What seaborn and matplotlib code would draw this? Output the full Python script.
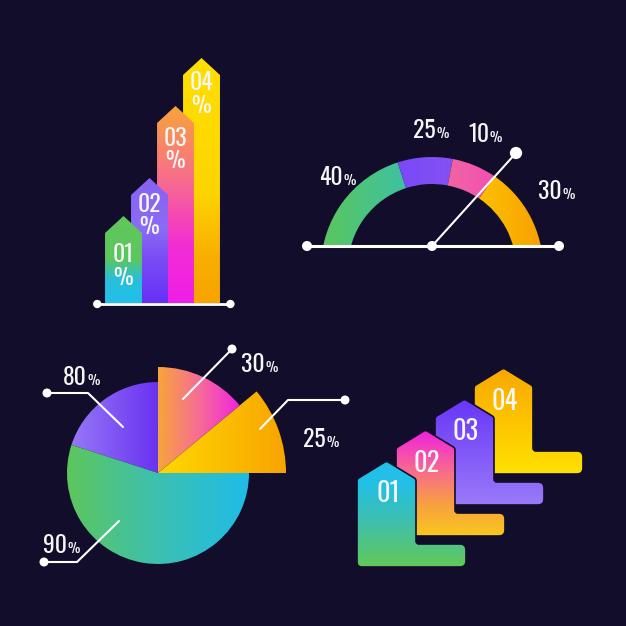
import numpy as np
import matplotlib
matplotlib.use("Agg")
import matplotlib.pyplot as plt
import seaborn as sns
from matplotlib import font_manager
from matplotlib.colors import LinearSegmentedColormap
from matplotlib.patches import PathPatch, Polygon, Wedge
from matplotlib.path import Path

BG = "#110d2b"
FG = "#f6f6f6"
SIZE = 626

# top left: arrow columns
bar_labels = ["01", "02", "03", "04"]
bar_heights = [70, 108, 180, 228]

# top right: half gauge
gauge_labels = ["40", "25", "10", "30"]
gauge_share = [40, 16, 13, 31]  # share of the half circle as drawn

# bottom left: pie with uneven radii (counter-clockwise from 12 o'clock)
pie_labels = ["80", "90", "25", "30"]
pie_share = [20, 55, 11, 14]
pie_radius = [91, 91, 128, 106]

# bottom right: steps
step_labels = ["01", "02", "03", "04"]

BAR_STOPS = [
    [(0, "#22bfe9"), (0.27, "#27c0dc"), (0.5, "#5cc660"), (1, "#60c85a")],
    [(0, "#6630f4"), (0.35, "#7a4cf6"), (0.6, "#8b6cf6"), (1, "#8762f2")],
    [(0, "#ef1ee8"), (0.3, "#f22ed2"), (0.62, "#f86c8e"), (1, "#f8a43a")],
    [(0, "#f7a300"), (0.2, "#f9b000"), (0.45, "#fed400"), (1, "#ffe000")],
]
GAUGE_STOPS = [
    [(0, "#5cc65c"), (1, "#34c0b6")],
    [(0, "#7a48f8"), (1, "#8452f2")],
    [(0, "#f06c9c"), (1, "#f250b2")],
    [(0, "#ffd800"), (1, "#f8a000")],
]
PIE_STOPS = [
    [(0, "#9678f8"), (1, "#6a32f0")],
    [(0, "#5ec65c"), (0.5, "#3cc0b0"), (1, "#20bce8")],
    [(0, "#ffd800"), (1, "#f8a400")],
    [(0, "#f7a53a"), (0.5, "#f76c96"), (1, "#f024e2")],
]
STEP_STOPS = [
    [(0, "#62c857"), (0.45, "#3cc0b0"), (0.8, "#22bfe8"), (1, "#22bfe8")],
    [(0, "#f8c81c"), (0.3, "#f8a040"), (0.62, "#f86a90"), (1, "#f020e0")],
    [(0, "#9a7af8"), (1, "#6836f8")],
    [(0, "#ffe100"), (0.5, "#fcc400"), (1, "#f8a600")],
]


def pick_font():
    # the original uses a tall condensed face; take the narrowest one available
    fl = font_manager.fontManager.ttflist
    names = {f.name for f in fl}
    for n in ["Oswald", "Liberation Sans Narrow", "Roboto Condensed", "Open Sans Condensed",
              "Noto Sans Condensed", "DejaVu Sans Condensed"]:
        if n in names:
            return n, "normal"
    for f in fl:
        if str(f.stretch) in ("condensed", "semi-condensed", "extra-condensed") and str(f.weight) in ("400", "normal", "regular"):
            return f.name, str(f.stretch)
    return "DejaVu Sans", "normal"


def panel(fig, x0, y0, x1, y1, xlim, ylim):
    # axes placed on a pixel box of the 626x626 canvas
    ax = fig.add_axes([x0 / SIZE, 1 - y1 / SIZE, (x1 - x0) / SIZE, (y1 - y0) / SIZE])
    ax.set_xlim(*xlim)
    ax.set_ylim(*ylim)
    ax.set_axis_off()
    return ax


def grad_fill(ax, patch, stops, extent, vertical=True, z=2, edge="none"):
    patch.set_facecolor("none")
    patch.set_edgecolor(edge)
    patch.set_linewidth(1.2)
    patch.set_zorder(z + 0.1)
    ax.add_patch(patch)
    g = np.linspace(0, 1, 256)
    arr = g[:, None] if vertical else g[None, :]
    cmap = LinearSegmentedColormap.from_list("g", stops)
    im = ax.imshow(arr, cmap=cmap, extent=extent, origin="lower", aspect="auto",
                   zorder=z, interpolation="bilinear")
    im.set_clip_path(patch)


def rounded_path(pts, radii):
    pts = np.asarray(pts, float)
    n = len(pts)
    verts, codes = [], []
    for k in range(n):
        p, a, b = pts[k], pts[k - 1], pts[(k + 1) % n]
        da = (a - p) / np.linalg.norm(a - p)
        db = (b - p) / np.linalg.norm(b - p)
        verts.append(p + da * radii[k])
        codes.append(Path.MOVETO if k == 0 else Path.LINETO)
        verts += [p, p + db * radii[k]]
        codes += [Path.CURVE3, Path.CURVE3]
    verts.append(verts[0])
    codes.append(Path.CLOSEPOLY)
    return Path(verts, codes)


def pct_label(ax, x, y, num, big=17, small=10):
    ax.text(x, y, num, ha="right", va="baseline", fontsize=big, color=FG)
    ax.text(x + 0.5, y, "%", ha="left", va="baseline", fontsize=small, color=FG)


def dots(ax, xs, ys, s, z=20):
    sns.scatterplot(x=xs, y=ys, s=s, color="white", edgecolor="none", legend=False, ax=ax, zorder=z)


sns.set_theme(style="dark", rc={"axes.facecolor": BG, "figure.facecolor": BG})
font_name, font_stretch = pick_font()
plt.rcParams["font.family"] = [font_name, "DejaVu Sans"]
plt.rcParams["font.stretch"] = font_stretch

fig = plt.figure(figsize=(SIZE / 100, SIZE / 100), dpi=100)

# ---- arrow columns ----
ax = panel(fig, 80, 40, 250, 320, (-1.673, 4.865), (-17, 263))
bw, tip = 1.42, 17
num_drop = [22, 9, 15, 8]
for i, h in enumerate(bar_heights):
    poly = Polygon([(i - bw / 2, 0), (i + bw / 2, 0), (i + bw / 2, h), (i, h + tip), (i - bw / 2, h)])
    grad_fill(ax, poly, BAR_STOPS[i], (i - bw / 2, i + bw / 2, 0, h + tip), z=10 - i)
    ax.text(i, h - num_drop[i], bar_labels[i], ha="center", va="center", fontsize=17, color=FG, zorder=15)
    ax.text(i, h - num_drop[i] - 23, "%", ha="center", va="center", fontsize=16, color=FG, zorder=15)
x_lo, x_hi = -bw / 2 - 0.3, len(bar_heights) - 1 + bw / 2 + 0.4
ax.plot([x_lo, x_hi], [-1, -1], color="white", lw=2, zorder=19, solid_capstyle="round")
dots(ax, [x_lo, x_hi], [-1, -1], 36)
ax.set_xlim(-1.673, 4.865)
ax.set_ylim(-17, 263)

# ---- half gauge ----
ax = panel(fig, 290, 100, 590, 260, (-142, 158), (8, 168))
r_out, ring, base = 111, 27, 22
edges = 180 - np.concatenate([[0], np.cumsum(gauge_share)]) / 100 * 180
for i in range(len(gauge_share)):
    t2, t1 = edges[i], edges[i + 1]
    w = Wedge((0, 0), r_out, t1, t2, width=ring)
    xs = w.get_path().vertices[:, 0]
    grad_fill(ax, w, GAUGE_STOPS[i], (xs.min(), xs.max(), base, r_out + 1), vertical=False, z=5)
gauge_pos = [(-89, 83), (4, 130), (57, 126), (130, 69)]
for (x, y), lab in zip(gauge_pos, gauge_labels):
    pct_label(ax, x, y, lab)
ax.plot([-125, 127], [base, base], color="white", lw=2.2, zorder=18)
ax.plot([0, 84], [base, 115], color="white", lw=1.5, zorder=18)
dots(ax, [-125, 0, 127], [base] * 3, 52)
dots(ax, [84], [115], 78)
ax.set_xlim(-142, 158)
ax.set_ylim(8, 168)

# ---- pie ----
ax = panel(fig, 30, 330, 360, 580, (-128, 202), (-107, 143))
angles = 90 + np.concatenate([[0], np.cumsum(pie_share)]) / 100 * 360
for i, r in enumerate(pie_radius):
    w = Wedge((0, 0), r, angles[i], angles[i + 1])
    xs = w.get_path().vertices[:, 0]
    grad_fill(ax, w, PIE_STOPS[i], (xs.min(), xs.max(), -r, r), vertical=False, z=5)
leaders = [
    [(-111, 80), (-70, 80), (-35, 46)],
    [(-114, -89), (-81, -89), (-39, -48)],
    [(187, 73), (130, 73), (102, 44)],
    [(74, 124), (25, 74)],
]
label_pos = [(-71, 88), (-91, -80), (168, 26), (107, 101)]
for pts, (x, y), lab in zip(leaders, label_pos, pie_labels):
    px, py = zip(*pts)
    ax.plot(px, py, color="white", lw=1.5, zorder=18)
    dots(ax, [px[0]], [py[0]], 42)
    pct_label(ax, x, y, lab)
ax.set_xlim(-128, 202)
ax.set_ylim(-107, 143)

# ---- steps ----
ax = panel(fig, 350, 360, 590, 580, (-7, 233), (-13, 207))
col_w, foot_len, foot_h, shoulder, peak = 59, 109, 23, 88, 18
for i, lab in enumerate(step_labels):
    x0, y0 = i * 39, i * 31
    pts = [(x0, y0), (x0 + foot_len, y0), (x0 + foot_len, y0 + foot_h), (x0 + col_w, y0 + foot_h),
           (x0 + col_w, y0 + shoulder), (x0 + col_w / 2, y0 + shoulder + peak), (x0, y0 + shoulder)]
    path = rounded_path(pts, [5, 6, 6, 3, 2, 2, 2])
    grad_fill(ax, PathPatch(path), STEP_STOPS[i], (x0, x0 + foot_len, y0, y0 + shoulder + peak),
              z=10 - 2 * i, edge=BG)
    ax.text(x0 + 31, y0 + 73, lab, ha="center", va="center", fontsize=19, color=FG, zorder=15)
ax.set_xlim(-7, 233)
ax.set_ylim(-13, 207)

fig.savefig("out.png", dpi=100, facecolor=BG)
